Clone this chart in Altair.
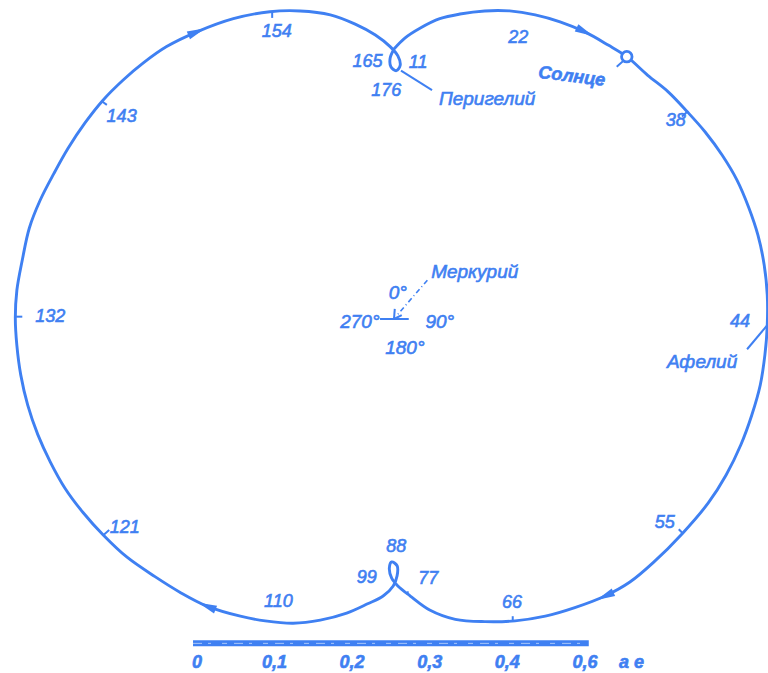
import math
import altair as alt
import pandas as pd

# Apparent path of the Sun as seen from Mercury over one solar day (176 days).
# Coordinates are in astronomical units, Mercury at the origin, x to the right, y up.
path_x = [0.000, 0.014, 0.034, 0.059, 0.085, 0.117, 0.149, 0.182, 0.214, 0.246,
          0.276, 0.300, 0.327, 0.353, 0.378, 0.401, 0.423, 0.442, 0.457, 0.469,
          0.477, 0.481, 0.481, 0.478, 0.472, 0.461, 0.447, 0.428, 0.405, 0.372,
          0.334, 0.304, 0.272, 0.233, 0.195, 0.156, 0.117, 0.079, 0.046, 0.021,
          0.005, -0.003, -0.006, -0.003, 0.004, 0.004, -0.001, -0.014, -0.034, -0.061,
          -0.095, -0.130, -0.166, -0.198, -0.241, -0.276, -0.308, -0.344, -0.375, -0.401,
          -0.424, -0.443, -0.459, -0.472, -0.481, -0.486, -0.488, -0.486, -0.479, -0.470,
          -0.456, -0.438, -0.420, -0.398, -0.375, -0.349, -0.323, -0.293, -0.254, -0.207,
          -0.160, -0.121, -0.082, -0.050, -0.024, -0.005, 0.005, 0.008, 0.003, -0.004,
          -0.005, 0.000]
path_y = [0.348, 0.362, 0.375, 0.387, 0.393, 0.397, 0.397, 0.392, 0.383, 0.370,
          0.353, 0.338, 0.314, 0.293, 0.267, 0.241, 0.211, 0.179, 0.144, 0.108,
          0.070, 0.031, -0.008, -0.046, -0.085, -0.124, -0.162, -0.201, -0.237, -0.276,
          -0.314, -0.339, -0.357, -0.372, -0.383, -0.389, -0.390, -0.387, -0.375, -0.357,
          -0.344, -0.334, -0.321, -0.313, -0.318, -0.331, -0.344, -0.357, -0.367, -0.379,
          -0.388, -0.392, -0.389, -0.383, -0.370, -0.352, -0.332, -0.307, -0.278, -0.249,
          -0.218, -0.184, -0.149, -0.111, -0.072, -0.034, 0.001, 0.037, 0.076, 0.117,
          0.153, 0.188, 0.220, 0.253, 0.282, 0.308, 0.330, 0.351, 0.370, 0.387,
          0.396, 0.397, 0.392, 0.380, 0.366, 0.351, 0.339, 0.327, 0.320, 0.325,
          0.336, 0.348]

# Day numbers written along the path
day_text = ["154", "143", "132", "121", "110", "99", "88", "77", "66", "55",
            "44", "38", "22", "11", "165", "176"]
day_x = [-0.151, -0.351, -0.443, -0.347, -0.149, -0.035, 0.003, 0.044, 0.152, 0.349,
         0.446, 0.363, 0.160, 0.031, -0.034, -0.010]
day_y = [0.370, 0.260, 0.003, -0.269, -0.365, -0.334, -0.294, -0.335, -0.366, -0.263,
         -0.004, 0.255, 0.362, 0.330, 0.331, 0.294]

# Named labels
name_text = ["Перигелий", "Афелий", "Меркурий", "0°", "270°", "90°", "180°"]
name_x = [0.120, 0.397, 0.104, 0.005, -0.044, 0.059, 0.014]
name_y = [0.284, -0.055, 0.061, 0.034, -0.004, -0.004, -0.037]

# The Sun at the moment shown
sun_x, sun_y = [0.300], [0.338]

# Direction arrows sit on these path vertices
arrow_at = [78, 9, 32, 54]

# Leader lines and the short day ticks: (x, y) -> (x2, y2)
lead_x = [0.009, 0.481, 0.287, -0.018, 0.010, 0.001]
lead_y = [0.320, -0.008, 0.325, 0.000, 0.005, 0.013]
lead_x2 = [0.049, 0.455, 0.295, 0.019, 0.000, 0.000]
lead_y2 = [0.295, -0.039, 0.332, 0.000, 0.000, 0.000]
tick_x = [-0.157, -0.377, -0.487, -0.374, 0.018, 0.153, 0.372, 0.378]
tick_y = [0.396, 0.281, 0.003, -0.278, -0.351, -0.383, -0.276, 0.267]
tick_x2 = [-0.157, -0.370, -0.479, -0.367, 0.017, 0.153, 0.367, 0.371]
tick_y2 = [0.388, 0.276, 0.003, -0.272, -0.355, -0.390, -0.271, 0.261]

# Dash-dot pointer to Mercury
ptr_x, ptr_y, ptr_x2, ptr_y2 = [0.043], [0.050], [0.004], [0.005]

# Scale bar in AU
bar_ticks = [0.0, 0.1, 0.2, 0.3, 0.4, 0.5]
bar_labels = ["0", "0,1", "0,2", "0,3", "0,4", "0,6"]
bar_unit = "а е"

# ---- layout -----------------------------------------------------------------
W, H = 768, 673
PX_PER_AU = 776.0
CX, CY = 394.0, 319.0          # where Mercury sits in the frame
BAR_X0, BAR_Y, BAR_LBL_Y = -0.254, -0.418, -0.443
BLUE = "#3f80f2"
FONT = "Liberation Sans"

xdom = [-CX / PX_PER_AU, (W - CX) / PX_PER_AU]
ydom = [-(H - CY) / PX_PER_AU, CY / PX_PER_AU]
xs = alt.Scale(domain=xdom, nice=False, zero=False)
ys = alt.Scale(domain=ydom, nice=False, zero=False)


def X(f="x"):
    return alt.X(f"{f}:Q", scale=xs, axis=None)


def Y(f="y"):
    return alt.Y(f"{f}:Q", scale=ys, axis=None)


path_df = pd.DataFrame({"i": range(len(path_x)), "x": path_x, "y": path_y})

arrows = []
for k in arrow_at:
    dx = path_x[k + 1] - path_x[k - 1]
    dy = path_y[k + 1] - path_y[k - 1]
    ang = math.degrees(math.atan2(-dy, dx)) % 360
    arrows.append({"x": path_x[k], "y": path_y[k], "a": ang})
arrow_df = pd.DataFrame(arrows)

day_df = pd.DataFrame({"t": day_text, "x": day_x, "y": day_y})
name_df = pd.DataFrame({"t": name_text, "x": name_x, "y": name_y})
seg_df = pd.DataFrame({"x": lead_x + tick_x, "y": lead_y + tick_y,
                       "x2": lead_x2 + tick_x2, "y2": lead_y2 + tick_y2})
ptr_df = pd.DataFrame({"x": ptr_x, "y": ptr_y, "x2": ptr_x2, "y2": ptr_y2})
sun_df = pd.DataFrame({"x": sun_x, "y": sun_y})

bar_df = pd.DataFrame({"x": [BAR_X0 - 0.005], "x2": [BAR_X0 + bar_ticks[-1] + 0.005],
                       "y": [BAR_Y]})
bar_lbl_df = pd.DataFrame({"t": bar_labels + [bar_unit],
                           "x": [BAR_X0 + v for v in bar_ticks] + [BAR_X0 + 0.56],
                           "y": [BAR_LBL_Y] * (len(bar_ticks) + 1)})

curve = alt.Chart(path_df).mark_line(color=BLUE, strokeWidth=2.9, strokeJoin="round",
                                     strokeCap="round", interpolate="catmull-rom").encode(
    x=X(), y=Y(), order="i:Q")

arrow_marks = alt.Chart(arrow_df).mark_point(
    shape="M-1,-0.45L1,0L-1,0.45Z", filled=True, color=BLUE, size=340, opacity=1
).encode(x=X(), y=Y(), angle=alt.Angle("a:Q", scale=None))

segs = alt.Chart(seg_df).mark_rule(color=BLUE, strokeWidth=2).encode(
    x=X(), y=Y(), x2="x2:Q", y2="y2:Q")

ptr = alt.Chart(ptr_df).mark_rule(color=BLUE, strokeWidth=1.6,
                                  strokeDash=[5, 3, 1, 3]).encode(
    x=X(), y=Y(), x2="x2:Q", y2="y2:Q")

sun = alt.Chart(sun_df).mark_point(shape="circle", filled=True, fill="white",
                                   stroke=BLUE, strokeWidth=2.8, size=110,
                                   opacity=1).encode(x=X(), y=Y())

TXT = dict(font=FONT, fontStyle="italic", color=BLUE, stroke=BLUE, strokeWidth=0.6,
           align="center", baseline="middle")

days = alt.Chart(day_df).mark_text(fontSize=18, **TXT).encode(
    x=X(), y=Y(), text="t:N")

names = alt.Chart(name_df).mark_text(fontSize=19, **TXT).encode(
    x=X(), y=Y(), text="t:N")

sun_lbl = alt.Chart(pd.DataFrame({"t": ["Солнце"], "x": [0.229], "y": [0.312]})).mark_text(
    fontSize=18, fontWeight="bold", angle=7, **TXT).encode(x=X(), y=Y(), text="t:N")

bar = alt.Chart(bar_df).mark_rule(color=BLUE, strokeWidth=6).encode(
    x=X(), x2="x2:Q", y=Y())
bar_fleck = alt.Chart(bar_df).mark_rule(color="white", strokeWidth=1, opacity=0.55,
                                        strokeDash=[9, 6, 3, 11, 5, 7]).encode(
    x=X(), x2="x2:Q", y=Y())
bar_lbl = alt.Chart(bar_lbl_df).mark_text(fontSize=18, fontWeight="bold", **TXT).encode(
    x=X(), y=Y(), text="t:N")

chart = alt.layer(curve, segs, ptr, arrow_marks, sun, days, names, sun_lbl,
                  bar, bar_fleck, bar_lbl).properties(
    width=W, height=H, padding=0, autosize=alt.AutoSizeParams(type="none"),
    background="white"
).configure_view(stroke=None)

chart.save("out.html", embed_options={"renderer": "svg", "actions": False})
